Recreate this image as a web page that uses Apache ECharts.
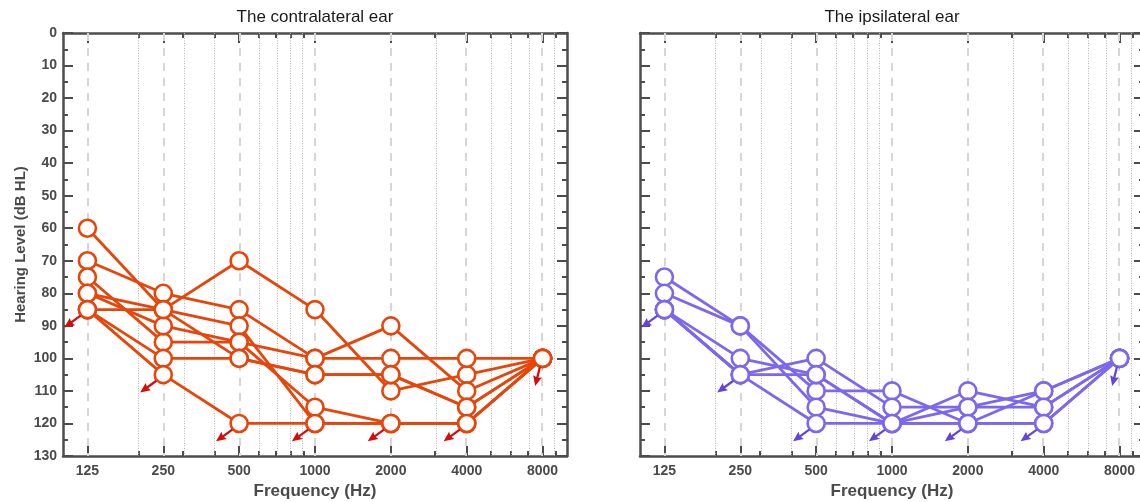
<!DOCTYPE html>
<html>
<head>
<meta charset="utf-8">
<script src="https://cdn.jsdelivr.net/npm/echarts@6/dist/echarts.min.js"></script>
<style>
  html, body { margin: 0; padding: 0; background: #fff; }
  #chart { width: 1140px; height: 502px; }
</style>
</head>
<body>
<div id="chart"></div>
<script>
// frequencies (Hz) and tick positions
const freqs = [125, 250, 500, 1000, 2000, 4000, 8000];
const majorFreqs = [125, 250, 500, 1000, 2000, 4000, 8000];
const minorFreqs = [200, 300, 400, 600, 700, 800, 900, 3000, 5000, 6000, 7000, 9000];

// contralateral ear, one array per subject (dB HL at each freq)
const contraA = [60, 85, 70, 85, 110, 105, 100];
const contraB = [70, 80, 85, 100, 90, 110, 100];
const contraC = [75, 95, 95, 100, 100, 100, 100];
const contraD = [80, 85, 90, 120, 120, 120, 100];
const contraE = [80, 90, 95, 115, 120, 120, 100];
const contraF = [85, 85, 100, 105, 105, 115, 100];
const contraG = [85, 100, 100, 105, 105, 115, 100];
const contraH = [85, 105, 120, 120, 120, 120, 100];

// ipsilateral ear
const ipsiA = [75, 90, 110, 110, 120, 110, 100];
const ipsiB = [80, 90, 115, 120, 110, 115, 100];
const ipsiC = [85, 100, 105, 120, 115, 110, 100];
const ipsiD = [85, 105, 100, 115, 115, 115, 100];
const ipsiE = [85, 105, 105, 120, 120, 120, 100];
const ipsiF = [85, 105, 120, 120, 120, 120, 100];

// no response (arrow) points, same in both ears
const noRespFreqs = [125, 250, 500, 1000, 2000, 4000, 8000];
const noRespLevels = [85, 105, 120, 120, 120, 120, 100];

const lg = f => Math.log10(f);
const AXIS = '#4d4d4d';
const FONT = '"Liberation Sans", Arial, sans-serif';
const ARROW = 'path://M3,0 L5,0 L5,11 L8,10 L4,20 L0,10 L3,11 Z';

const panels = [
  { title: 'The contralateral ear', left: 63, color: '#E8450B', arrow: '#D40C0C',
    subjects: [contraA, contraB, contraC, contraD, contraE, contraF, contraG, contraH], showY: true },
  { title: 'The ipsilateral ear', left: 640, color: '#7B68EE', arrow: '#6444DA',
    subjects: [ipsiA, ipsiB, ipsiC, ipsiD, ipsiE, ipsiF], showY: false }
];

const tickStyle = { color: AXIS, width: 2 };
const labelStyle = { color: '#4a4a4a', fontSize: 14, fontWeight: 'bold', fontFamily: FONT };

const grid = [], xAxis = [], yAxis = [], series = [], title = [];

panels.forEach((p, g) => {
  grid.push({ left: p.left, top: 33, width: 504, height: 423, outerBoundsMode: 'none', containLabel: false });
  title.push({
    text: p.title, left: p.left + 252, top: 9, textAlign: 'center', padding: 0,
    textStyle: { fontSize: 17, fontWeight: 'normal', color: '#1a1a1a', fontFamily: FONT }
  });

  const xBase = { gridIndex: g, type: 'value', min: 2, max: 4, splitLine: { show: false } };
  // bottom, labelled ticks
  xAxis.push(Object.assign({}, xBase, {
    position: 'bottom',
    axisLine: { show: true, onZero: false, lineStyle: { color: AXIS, width: 2.5 } },
    axisTick: { show: true, inside: true, length: 10, lineStyle: tickStyle, customValues: majorFreqs.map(lg) },
    axisLabel: Object.assign({ show: true, margin: 8, customValues: majorFreqs.map(lg),
      formatter: v => String(Math.round(Math.pow(10, v))) }, labelStyle),
    name: 'Frequency (Hz)', nameLocation: 'middle', nameGap: 27,
    nameTextStyle: { fontSize: 17, fontWeight: 'bold', color: '#4a4a4a', fontFamily: FONT }
  }));
  // bottom, minor ticks
  xAxis.push(Object.assign({}, xBase, {
    position: 'bottom',
    axisLine: { show: false, onZero: false },
    axisTick: { show: true, inside: true, length: 5, lineStyle: tickStyle, customValues: minorFreqs.map(lg) },
    axisLabel: { show: false }
  }));
  // top border, mirrored ticks
  xAxis.push(Object.assign({}, xBase, {
    position: 'top',
    axisLine: { show: true, onZero: false, lineStyle: { color: AXIS, width: 2.5 } },
    axisTick: { show: true, inside: true, length: 10, lineStyle: tickStyle, customValues: majorFreqs.map(lg) },
    axisLabel: { show: false }
  }));
  xAxis.push(Object.assign({}, xBase, {
    position: 'top',
    axisLine: { show: false, onZero: false },
    axisTick: { show: true, inside: true, length: 5, lineStyle: tickStyle, customValues: minorFreqs.map(lg) },
    axisLabel: { show: false }
  }));

  const yBase = {
    gridIndex: g, type: 'value', min: 0, max: 130, interval: 10, inverse: true,
    splitLine: { show: false },
    axisLine: { show: true, onZero: false, lineStyle: { color: AXIS, width: 2.5 } },
    axisTick: { show: true, inside: true, length: 10, lineStyle: tickStyle },
    minorTick: { show: true, splitNumber: 2, length: 5, lineStyle: tickStyle }
  };
  yAxis.push(Object.assign({}, yBase, {
    position: 'left',
    axisLabel: Object.assign({ show: p.showY, margin: 6 }, labelStyle),
    name: p.showY ? 'Hearing Level (dB HL)' : '', nameLocation: 'middle', nameGap: 35,
    nameTextStyle: { fontSize: 15, fontWeight: 'bold', color: '#4a4a4a', fontFamily: FONT }
  }));
  yAxis.push(Object.assign({}, yBase, { position: 'right', axisLabel: { show: false } }));

  const xi = g * 4, yi = g * 2;

  // grid lines: dashed at labelled freqs, dotted at the rest
  series.push({
    type: 'line', xAxisIndex: xi, yAxisIndex: yi, data: [], z: 1, silent: true,
    markLine: {
      silent: true, symbol: ['none', 'none'], label: { show: false }, animation: false, z: 1,
      data: majorFreqs.map(f => ({ xAxis: lg(f), lineStyle: { color: '#d6d6d6', width: 2, type: [8, 7] } }))
        .concat(minorFreqs.map(f => ({ xAxis: lg(f), lineStyle: { color: '#b5b5b5', width: 1, type: [1, 1.5] } })))
    }
  });

  p.subjects.forEach(levels => {
    series.push({
      type: 'line', xAxisIndex: xi, yAxisIndex: yi, z: 2,
      symbol: 'none', showSymbol: false,
      lineStyle: { color: p.color, width: 2.8 },
      data: levels.map((d, i) => [lg(freqs[i]), d])
    });
  });

  const pts = [];
  p.subjects.forEach(levels => levels.forEach((d, i) => pts.push([lg(freqs[i]), d])));
  series.push({
    type: 'scatter', xAxisIndex: xi, yAxisIndex: yi, z: 3,
    symbol: 'circle', symbolSize: 17,
    itemStyle: { color: '#fff', borderColor: p.color, borderWidth: 2.6, opacity: 1 },
    data: pts
  });

  series.push({
    type: 'scatter', xAxisIndex: xi, yAxisIndex: yi, z: 4,
    symbol: ARROW, symbolSize: [9, 20],
    itemStyle: { color: p.arrow, opacity: 1 },
    data: noRespFreqs.map((f, i) => ({
      value: [lg(f), noRespLevels[i]],
      symbolRotate: f === 8000 ? -14 : -54,
      symbolOffset: f === 8000 ? [-5, 18] : [-15, 12]
    }))
  });
});

const chart = echarts.init(document.getElementById('chart'), null, { renderer: 'canvas' });
chart.setOption({
  animation: false,
  backgroundColor: '#fff',
  title, grid, xAxis, yAxis, series
});
</script>
</body>
</html>
